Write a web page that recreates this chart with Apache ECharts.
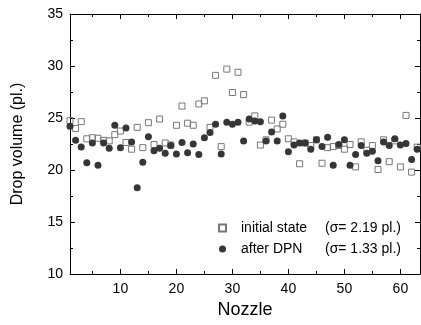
<!DOCTYPE html>
<html><head><meta charset="utf-8">
<script src="https://cdn.jsdelivr.net/npm/echarts@6/dist/echarts.min.js"></script>
<style>html,body{margin:0;padding:0;background:#fff}#c{width:421px;height:325px}</style>
</head><body><div id="c"></div>
<script>
const nozzles = [];
for (let i = 1; i <= 63; i++) nozzles.push(i);
const initialState = [24.75,24.0,24.65,23.0,23.1,23.05,22.85,22.8,23.4,23.75,
  22.65,22.0,24.1,22.15,24.55,22.45,24.9,22.6,22.4,24.3,
  26.15,24.5,24.3,26.35,26.65,24.1,29.1,22.25,29.7,27.45,
  29.4,27.25,24.6,25.2,22.4,22.9,24.8,23.95,24.4,23.0,
  22.7,20.6,22.6,22.35,22.9,20.65,22.15,22.25,22.35,22.0,
  22.45,20.3,22.7,21.9,22.35,20.05,22.9,20.8,22.8,20.3,
  25.25,19.8,22.2];
const afterDPN = [24.2,22.85,22.2,20.7,22.6,20.45,22.6,22.1,24.3,22.15,
  24.05,22.7,18.3,20.75,23.2,21.85,22.1,21.6,22.35,21.55,
  22.65,21.65,22.5,21.5,23.1,23.6,24.4,21.55,24.6,24.4,
  24.6,22.8,24.9,24.7,24.65,22.8,23.65,22.8,25.2,21.75,
  22.4,22.6,22.6,22.0,22.9,22.25,23.15,20.45,22.45,22.9,
  20.45,21.5,22.35,21.6,21.8,20.9,22.7,22.35,23.0,22.4,
  22.55,21.0,22.0];
const seriesNames = ['initial state','after DPN'];
const sigmaLabels = ['(σ= 2.19 pl.)','(σ= 1.33 pl.)'];
const xMajorTicks = [10,20,30,40,50,60];
const xMinorTicks = [5,15,25,35,45,55];

const pair = arr => arr.map((v,i)=>[nozzles[i], v]);
const font = 'Liberation Sans, Arial, sans-serif';
const axisLine = {show:true, lineStyle:{color:'#000', width:1}};
const xBase = {type:'value', min:1, max:63.5, splitLine:{show:false}, axisLine: axisLine};

const chart = echarts.init(document.getElementById('c'));
chart.setOption({
  animation:false,
  grid:{left:70, right:1, top:14, bottom:51},
  xAxis:[
    Object.assign({}, xBase, {position:'bottom', name:'Nozzle', nameLocation:'middle', nameGap:24,
      nameTextStyle:{fontFamily:font, fontSize:18, color:'#000'},
      axisTick:{show:true, inside:true, length:5, customValues:xMajorTicks, lineStyle:{color:'#000'}},
      axisLabel:{customValues:xMajorTicks, fontFamily:font, fontSize:14, color:'#000', margin:8}}),
    Object.assign({}, xBase, {position:'bottom', axisLine:{show:false},
      axisTick:{show:true, inside:true, length:3, customValues:xMinorTicks, lineStyle:{color:'#000'}},
      axisLabel:{show:false}}),
    Object.assign({}, xBase, {position:'top',
      axisTick:{show:true, inside:true, length:5, customValues:xMajorTicks, lineStyle:{color:'#000'}},
      axisLabel:{show:false}}),
    Object.assign({}, xBase, {position:'top', axisLine:{show:false},
      axisTick:{show:true, inside:true, length:3, customValues:xMinorTicks, lineStyle:{color:'#000'}},
      axisLabel:{show:false}})
  ],
  yAxis:[
    {type:'value', min:10, max:35, interval:5, position:'left', splitLine:{show:false}, axisLine:axisLine,
     name:'Drop volume (pl.)', nameLocation:'middle', nameGap:44,
     nameTextStyle:{fontFamily:font, fontSize:16, color:'#000'},
     axisTick:{inside:true, length:5, lineStyle:{color:'#000'}},
     minorTick:{show:true, splitNumber:2, length:3, lineStyle:{color:'#000'}},
     axisLabel:{fontFamily:font, fontSize:14, color:'#000', margin:7}},
    {type:'value', min:10, max:35, interval:5, position:'right', splitLine:{show:false}, axisLine:axisLine,
     axisTick:{inside:true, length:5, lineStyle:{color:'#000'}},
     minorTick:{show:true, splitNumber:2, length:3, lineStyle:{color:'#000'}},
     axisLabel:{show:false}}
  ],
  legend:{
    orient:'vertical', left:213, top:216, itemGap:7, itemWidth:7, itemHeight:7,
    data:[{name:seriesNames[0], icon:'rect'},{name:seriesNames[1], icon:'circle'}],
    formatter: name => '{s| }{a|' + name + '}{b|' + sigmaLabels[seriesNames.indexOf(name)] + '}',
    textStyle:{fontFamily:font, fontSize:14, color:'#000',
      rich:{s:{width:10}, a:{width:84, fontFamily:font, fontSize:14, color:'#000'}, b:{fontFamily:font, fontSize:14, color:'#000'}}}
  },
  series:[
    {name:seriesNames[0], type:'scatter', xAxisIndex:0, yAxisIndex:0, symbol:'rect', symbolSize:6,
     itemStyle:{color:'rgba(255,255,255,0)', borderColor:'#777', borderWidth:1, opacity:1},
     data: pair(initialState)},
    {name:seriesNames[1], type:'scatter', xAxisIndex:0, yAxisIndex:0, symbol:'circle', symbolSize:7,
     itemStyle:{color:'#363636', opacity:1},
     data: pair(afterDPN)}
  ]
});
</script></body></html>
